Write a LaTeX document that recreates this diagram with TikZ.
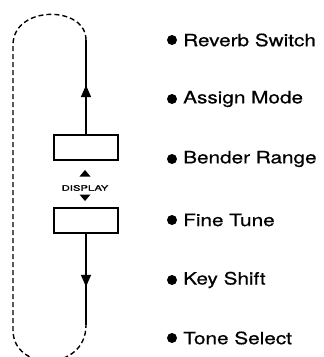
\documentclass[tikz,border=0pt]{standalone}
\usepackage{fontspec}
\setmainfont{TeX Gyre Heros}
\newfontfamily\widefont[FakeStretch=1.22, FakeBold=0.6]{TeX Gyre Heros}
\newfontfamily\dispfont[FakeStretch=1.5, FakeBold=1.5]{TeX Gyre Heros}
\usetikzlibrary{arrows.meta,decorations.markings}
\begin{document}
\begin{tikzpicture}[x=1pt,y=-1pt,
  panel/.style={draw, line width=2pt, minimum width=64pt, minimum height=25pt, inner sep=0pt},
  item/.style={anchor=west, inner sep=0pt, font=\widefont\fontsize{17}{19}\selectfont},
  dot/.style={circle, fill, inner sep=0pt, minimum size=10pt},
  loop/.style={line width=1.4pt, dash pattern=on 5pt off 3pt},
  flow/.style={line width=1.6pt}
]
\useasboundingbox (0,0) rectangle (324,357);
\clip (0,0) rectangle (324,357);
% panels
\node[panel] (b1) at (86,147.5) {};
\node[panel] (b2) at (86,220.5) {};
\node[font=\dispfont\fontsize{7.5}{8}\selectfont, inner sep=0pt] (disp) at (85,188) {DISPLAY};
\fill (79.5,176.5) -- (85,170) -- (90.5,176.5) -- cycle;
\fill (79.5,194.5) -- (85,201) -- (90.5,194.5) -- cycle;
% loop
\coordinate (top) at (86,40);
\coordinate (bot) at (86,325);
\draw[flow, postaction={decorate}, decoration={markings, mark=at position 0.52 with {\arrow{Triangle[length=12pt,width=10pt]}}}] (b1.north) -- (top);
\draw[flow, postaction={decorate}, decoration={markings, mark=at position 0.58 with {\arrow{Triangle[length=12pt,width=10pt]}}}] (b2.south) -- (bot);
\draw[loop] (top) .. controls (86,5) and (13,5) .. (13,45) -- (13,330) .. controls (13,372) and (86,372) .. (bot);
% items
\foreach \y/\t/\n in {40/Reverb Switch/i1, 99/Assign Mode/i2, 159/Bender Range/i3, 220/Fine Tune/i4, 280/Key Shift/i5, 338/Tone Select/i6} {
  \node[dot] (\n d) at (172,\y) {};
  \node[item] (\n) at (183,\y) {\t};
}
\end{tikzpicture}
\end{document}
